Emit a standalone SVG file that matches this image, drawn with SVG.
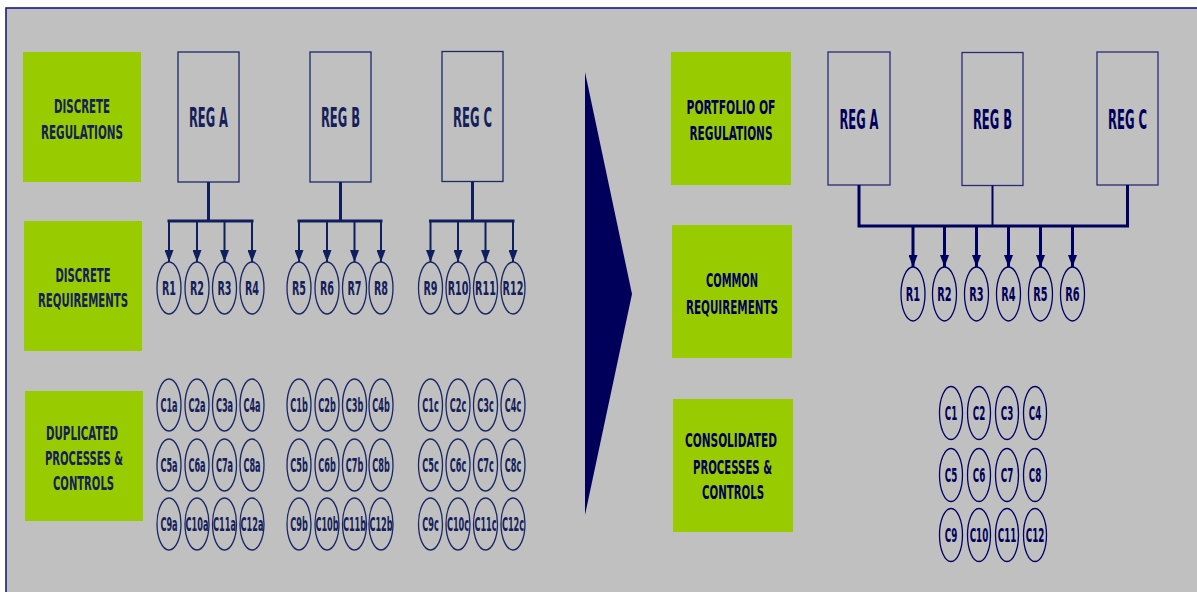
<svg xmlns="http://www.w3.org/2000/svg" width="1197" height="592" viewBox="0 0 1197 592">
<defs>
<style>
.bg{fill:#c0c0c0;stroke:#1a1a8c;stroke-width:1.6}
.green{fill:#99cc00}
.reg{fill:none;stroke:#1c2a6a;stroke-width:1.3}
.regR{fill:none;stroke:#2a2a7a;stroke-width:1.3}
.ell{fill:none;stroke:#1a2766;stroke-width:1.3}
.ellR{fill:none;stroke:#000066;stroke-width:1.3}
text{font-family:"DejaVu Sans","Verdana",sans-serif;font-weight:bold;text-anchor:middle}
.lbl{font-size:20px;fill:#14205a}
.lblR{font-size:20px;fill:#00005c}
.regt{font-size:26px;fill:#14205a}
.regtR{font-size:26px;fill:#00005c}
.rt{font-size:20px;fill:#14205a}
.rtR{font-size:20px;fill:#00005c}
.ct{font-size:19px;fill:#14205a}
.ctR{font-size:19px;fill:#00005c}
.thick{stroke:#0f1f5e;stroke-width:3;fill:none}
.thin{stroke:#0f1f5e;stroke-width:2;fill:none}
.thickR{stroke:#000060;stroke-width:3;fill:none}
.thinR{stroke:#000060;stroke-width:2;fill:none}
</style>
<marker id="ah" markerUnits="userSpaceOnUse" markerWidth="9" markerHeight="12" refX="4.5" refY="12" viewBox="0 0 9 12">
<path d="M0,0 L9,0 L4.5,12 Z" fill="#0f1f5e"/>
</marker>
<marker id="ahR" markerUnits="userSpaceOnUse" markerWidth="9" markerHeight="12" refX="4.5" refY="12" viewBox="0 0 9 12">
<path d="M0,0 L9,0 L4.5,12 Z" fill="#000060"/>
</marker>
</defs>

<rect x="6" y="8" width="1200" height="600" class="bg"/>

<!-- Left labels (text compressed with scale 0.5) -->
<g id="lbl-discrete-regulations">
<rect x="23" y="52" width="118" height="130" class="green"/>
<text class="lbl" transform="scale(0.5,1)" x="164" y="113" textLength="112" lengthAdjust="spacingAndGlyphs">DISCRETE</text>
<text class="lbl" transform="scale(0.5,1)" x="164" y="139" textLength="164" lengthAdjust="spacingAndGlyphs">REGULATIONS</text>
</g>
<g id="lbl-discrete-requirements">
<rect x="24" y="221" width="118" height="130" class="green"/>
<text class="lbl" transform="scale(0.5,1)" x="166" y="282" textLength="110" lengthAdjust="spacingAndGlyphs">DISCRETE</text>
<text class="lbl" transform="scale(0.5,1)" x="166" y="307" textLength="180" lengthAdjust="spacingAndGlyphs">REQUIREMENTS</text>
</g>
<g id="lbl-duplicated">
<rect x="25" y="391" width="118" height="130" class="green"/>
<text class="lbl" transform="scale(0.5,1)" x="164" y="440" textLength="144" lengthAdjust="spacingAndGlyphs">DUPLICATED</text>
<text class="lbl" transform="scale(0.5,1)" x="168" y="465" textLength="156" lengthAdjust="spacingAndGlyphs">PROCESSES &amp;</text>
<text class="lbl" transform="scale(0.5,1)" x="167" y="490" textLength="122" lengthAdjust="spacingAndGlyphs">CONTROLS</text>
</g>

<!-- Left REG boxes -->
<g id="regA-left">
<rect x="178" y="52" width="61" height="130" class="reg"/>
<text class="regt" transform="scale(0.5,1)" x="417" y="127.5" textLength="78" lengthAdjust="spacingAndGlyphs">REG A</text>
</g>
<g id="regB-left">
<rect x="310" y="52" width="61" height="130" class="reg"/>
<text class="regt" transform="scale(0.5,1)" x="681" y="127.5" textLength="78" lengthAdjust="spacingAndGlyphs">REG B</text>
</g>
<g id="regC-left">
<rect x="442" y="51.5" width="61" height="130" class="reg"/>
<text class="regt" transform="scale(0.5,1)" x="945" y="127.5" textLength="78" lengthAdjust="spacingAndGlyphs">REG C</text>
</g>

<!-- Left requirement ellipses (labels compressed with scale 0.48) -->
<g id="req-left">
<g id="R1a"><ellipse cx="169" cy="288" rx="12" ry="26" class="ell"/><text class="rt" transform="scale(0.48,1)" x="352.08" y="295.5">R1</text></g>
<g id="R2a"><ellipse cx="197" cy="288" rx="12" ry="26" class="ell"/><text class="rt" transform="scale(0.48,1)" x="410.42" y="295.5">R2</text></g>
<g id="R3a"><ellipse cx="224.5" cy="288" rx="12" ry="26" class="ell"/><text class="rt" transform="scale(0.48,1)" x="467.71" y="295.5">R3</text></g>
<g id="R4a"><ellipse cx="252" cy="288" rx="12" ry="26" class="ell"/><text class="rt" transform="scale(0.48,1)" x="525" y="295.5">R4</text></g>
<g id="R5a"><ellipse cx="299" cy="288" rx="12" ry="26" class="ell"/><text class="rt" transform="scale(0.48,1)" x="622.92" y="295.5">R5</text></g>
<g id="R6a"><ellipse cx="327" cy="288" rx="12" ry="26" class="ell"/><text class="rt" transform="scale(0.48,1)" x="681.25" y="295.5">R6</text></g>
<g id="R7a"><ellipse cx="354.5" cy="288" rx="12" ry="26" class="ell"/><text class="rt" transform="scale(0.48,1)" x="738.54" y="295.5">R7</text></g>
<g id="R8a"><ellipse cx="381" cy="288" rx="12" ry="26" class="ell"/><text class="rt" transform="scale(0.48,1)" x="793.75" y="295.5">R8</text></g>
<g id="R9a"><ellipse cx="430.5" cy="288" rx="12" ry="26" class="ell"/><text class="rt" transform="scale(0.48,1)" x="896.88" y="295.5">R9</text></g>
<g id="R10a"><ellipse cx="458" cy="288" rx="12" ry="26" class="ell"/><text class="rt" transform="scale(0.48,1)" x="954.17" y="295.5">R10</text></g>
<g id="R11a"><ellipse cx="485.5" cy="288" rx="12" ry="26" class="ell"/><text class="rt" transform="scale(0.48,1)" x="1011.46" y="295.5">R11</text></g>
<g id="R12a"><ellipse cx="513" cy="288" rx="12" ry="26" class="ell"/><text class="rt" transform="scale(0.48,1)" x="1068.75" y="295.5">R12</text></g>
</g>

<!-- Left controls ellipses (labels compressed with scale 0.43) -->
<g id="ctrl-left">
<g id="C1a"><ellipse cx="169" cy="405" rx="12" ry="26" class="ell"/><text class="ct" transform="scale(0.43,1)" x="393.02" y="412">C1a</text></g>
<g id="C2a"><ellipse cx="197" cy="405" rx="12" ry="26" class="ell"/><text class="ct" transform="scale(0.43,1)" x="458.14" y="412">C2a</text></g>
<g id="C3a"><ellipse cx="224.5" cy="405" rx="12" ry="26" class="ell"/><text class="ct" transform="scale(0.43,1)" x="522.09" y="412">C3a</text></g>
<g id="C4a"><ellipse cx="252" cy="405" rx="12" ry="26" class="ell"/><text class="ct" transform="scale(0.43,1)" x="586.05" y="412">C4a</text></g>
<g id="C5a"><ellipse cx="169" cy="465" rx="12" ry="26" class="ell"/><text class="ct" transform="scale(0.43,1)" x="393.02" y="472">C5a</text></g>
<g id="C6a"><ellipse cx="197" cy="465" rx="12" ry="26" class="ell"/><text class="ct" transform="scale(0.43,1)" x="458.14" y="472">C6a</text></g>
<g id="C7a"><ellipse cx="224.5" cy="465" rx="12" ry="26" class="ell"/><text class="ct" transform="scale(0.43,1)" x="522.09" y="472">C7a</text></g>
<g id="C8a"><ellipse cx="252" cy="465" rx="12" ry="26" class="ell"/><text class="ct" transform="scale(0.43,1)" x="586.05" y="472">C8a</text></g>
<g id="C9a"><ellipse cx="169" cy="524" rx="12" ry="26" class="ell"/><text class="ct" transform="scale(0.43,1)" x="393.02" y="531">C9a</text></g>
<g id="C10a"><ellipse cx="197" cy="524" rx="12" ry="26" class="ell"/><text class="ct" transform="scale(0.43,1)" x="458.14" y="531">C10a</text></g>
<g id="C11a"><ellipse cx="224.5" cy="524" rx="12" ry="26" class="ell"/><text class="ct" transform="scale(0.43,1)" x="522.09" y="531">C11a</text></g>
<g id="C12a"><ellipse cx="252" cy="524" rx="12" ry="26" class="ell"/><text class="ct" transform="scale(0.43,1)" x="586.05" y="531">C12a</text></g>

<g id="C1b"><ellipse cx="299" cy="405" rx="12" ry="26" class="ell"/><text class="ct" transform="scale(0.43,1)" x="695.35" y="412">C1b</text></g>
<g id="C2b"><ellipse cx="327" cy="405" rx="12" ry="26" class="ell"/><text class="ct" transform="scale(0.43,1)" x="760.47" y="412">C2b</text></g>
<g id="C3b"><ellipse cx="354.5" cy="405" rx="12" ry="26" class="ell"/><text class="ct" transform="scale(0.43,1)" x="824.42" y="412">C3b</text></g>
<g id="C4b"><ellipse cx="381" cy="405" rx="12" ry="26" class="ell"/><text class="ct" transform="scale(0.43,1)" x="886.05" y="412">C4b</text></g>
<g id="C5b"><ellipse cx="299" cy="465" rx="12" ry="26" class="ell"/><text class="ct" transform="scale(0.43,1)" x="695.35" y="472">C5b</text></g>
<g id="C6b"><ellipse cx="327" cy="465" rx="12" ry="26" class="ell"/><text class="ct" transform="scale(0.43,1)" x="760.47" y="472">C6b</text></g>
<g id="C7b"><ellipse cx="354.5" cy="465" rx="12" ry="26" class="ell"/><text class="ct" transform="scale(0.43,1)" x="824.42" y="472">C7b</text></g>
<g id="C8b"><ellipse cx="381" cy="465" rx="12" ry="26" class="ell"/><text class="ct" transform="scale(0.43,1)" x="886.05" y="472">C8b</text></g>
<g id="C9b"><ellipse cx="299" cy="524" rx="12" ry="26" class="ell"/><text class="ct" transform="scale(0.43,1)" x="695.35" y="531">C9b</text></g>
<g id="C10b"><ellipse cx="327" cy="524" rx="12" ry="26" class="ell"/><text class="ct" transform="scale(0.43,1)" x="760.47" y="531">C10b</text></g>
<g id="C11b"><ellipse cx="354.5" cy="524" rx="12" ry="26" class="ell"/><text class="ct" transform="scale(0.43,1)" x="824.42" y="531">C11b</text></g>
<g id="C12b"><ellipse cx="381" cy="524" rx="12" ry="26" class="ell"/><text class="ct" transform="scale(0.43,1)" x="886.05" y="531">C12b</text></g>

<g id="C1c"><ellipse cx="430.5" cy="405" rx="12" ry="26" class="ell"/><text class="ct" transform="scale(0.43,1)" x="1001.16" y="412">C1c</text></g>
<g id="C2c"><ellipse cx="458" cy="405" rx="12" ry="26" class="ell"/><text class="ct" transform="scale(0.43,1)" x="1065.12" y="412">C2c</text></g>
<g id="C3c"><ellipse cx="485.5" cy="405" rx="12" ry="26" class="ell"/><text class="ct" transform="scale(0.43,1)" x="1129.07" y="412">C3c</text></g>
<g id="C4c"><ellipse cx="513" cy="405" rx="12" ry="26" class="ell"/><text class="ct" transform="scale(0.43,1)" x="1193.02" y="412">C4c</text></g>
<g id="C5c"><ellipse cx="430.5" cy="465" rx="12" ry="26" class="ell"/><text class="ct" transform="scale(0.43,1)" x="1001.16" y="472">C5c</text></g>
<g id="C6c"><ellipse cx="458" cy="465" rx="12" ry="26" class="ell"/><text class="ct" transform="scale(0.43,1)" x="1065.12" y="472">C6c</text></g>
<g id="C7c"><ellipse cx="485.5" cy="465" rx="12" ry="26" class="ell"/><text class="ct" transform="scale(0.43,1)" x="1129.07" y="472">C7c</text></g>
<g id="C8c"><ellipse cx="513" cy="465" rx="12" ry="26" class="ell"/><text class="ct" transform="scale(0.43,1)" x="1193.02" y="472">C8c</text></g>
<g id="C9c"><ellipse cx="430.5" cy="524" rx="12" ry="26" class="ell"/><text class="ct" transform="scale(0.43,1)" x="1001.16" y="531">C9c</text></g>
<g id="C10c"><ellipse cx="458" cy="524" rx="12" ry="26" class="ell"/><text class="ct" transform="scale(0.43,1)" x="1065.12" y="531">C10c</text></g>
<g id="C11c"><ellipse cx="485.5" cy="524" rx="12" ry="26" class="ell"/><text class="ct" transform="scale(0.43,1)" x="1129.07" y="531">C11c</text></g>
<g id="C12c"><ellipse cx="513" cy="524" rx="12" ry="26" class="ell"/><text class="ct" transform="scale(0.43,1)" x="1193.02" y="531">C12c</text></g>
</g>

<!-- Big transition arrow -->
<g id="transition-arrow">
<polygon points="585,72 632,294 585,515" fill="#00005a"/>
</g>

<!-- Right labels -->
<g id="lbl-portfolio">
<rect x="671" y="52" width="120" height="133" class="green"/>
<text class="lblR" transform="scale(0.5,1)" x="1462" y="114" textLength="178" lengthAdjust="spacingAndGlyphs">PORTFOLIO  OF</text>
<text class="lblR" transform="scale(0.5,1)" x="1462" y="140.5" textLength="166" lengthAdjust="spacingAndGlyphs">REGULATIONS</text>
</g>
<g id="lbl-common">
<rect x="672" y="225" width="120" height="133" class="green"/>
<text class="lblR" transform="scale(0.5,1)" x="1464" y="287" textLength="104" lengthAdjust="spacingAndGlyphs">COMMON</text>
<text class="lblR" transform="scale(0.5,1)" x="1464" y="314" textLength="184" lengthAdjust="spacingAndGlyphs">REQUIREMENTS</text>
</g>
<g id="lbl-consolidated">
<rect x="673" y="399" width="120" height="133" class="green"/>
<text class="lblR" transform="scale(0.5,1)" x="1462" y="447" textLength="184" lengthAdjust="spacingAndGlyphs">CONSOLIDATED</text>
<text class="lblR" transform="scale(0.5,1)" x="1465" y="474" textLength="158" lengthAdjust="spacingAndGlyphs">PROCESSES &amp;</text>
<text class="lblR" transform="scale(0.5,1)" x="1466" y="499" textLength="124" lengthAdjust="spacingAndGlyphs">CONTROLS</text>
</g>

<!-- Right REG boxes -->
<g id="regA-right">
<rect x="828" y="52" width="62" height="133" class="regR"/>
<text class="regtR" transform="scale(0.5,1)" x="1718" y="129" textLength="78" lengthAdjust="spacingAndGlyphs">REG A</text>
</g>
<g id="regB-right">
<rect x="962" y="52.5" width="61" height="133" class="regR"/>
<text class="regtR" transform="scale(0.5,1)" x="1985" y="129" textLength="78" lengthAdjust="spacingAndGlyphs">REG B</text>
</g>
<g id="regC-right">
<rect x="1097" y="52" width="61" height="133" class="regR"/>
<text class="regtR" transform="scale(0.5,1)" x="2255" y="129" textLength="78" lengthAdjust="spacingAndGlyphs">REG C</text>
</g>

<!-- Right requirement ellipses (labels scale 0.49) -->
<g id="req-right">
<g id="R1"><ellipse cx="913" cy="294" rx="12" ry="27" class="ellR"/><text class="rtR" transform="scale(0.49,1)" x="1863.27" y="301.5">R1</text></g>
<g id="R2"><ellipse cx="944.5" cy="294" rx="12" ry="27" class="ellR"/><text class="rtR" transform="scale(0.49,1)" x="1927.55" y="301.5">R2</text></g>
<g id="R3"><ellipse cx="976.5" cy="294" rx="12" ry="27" class="ellR"/><text class="rtR" transform="scale(0.49,1)" x="1992.86" y="301.5">R3</text></g>
<g id="R4"><ellipse cx="1008.5" cy="294" rx="12" ry="27" class="ellR"/><text class="rtR" transform="scale(0.49,1)" x="2058.16" y="301.5">R4</text></g>
<g id="R5"><ellipse cx="1040.5" cy="294" rx="12" ry="27" class="ellR"/><text class="rtR" transform="scale(0.49,1)" x="2123.47" y="301.5">R5</text></g>
<g id="R6"><ellipse cx="1072.5" cy="294" rx="12" ry="27" class="ellR"/><text class="rtR" transform="scale(0.49,1)" x="2188.78" y="301.5">R6</text></g>
</g>

<!-- Right consolidated controls (labels scale 0.46) -->
<g id="ctrl-right">
<g id="C1"><ellipse cx="951" cy="413" rx="11.5" ry="26.5" class="ellR"/><text class="ctR" transform="scale(0.46,1)" x="2067.39" y="420">C1</text></g>
<g id="C2"><ellipse cx="979" cy="413" rx="11.5" ry="26.5" class="ellR"/><text class="ctR" transform="scale(0.46,1)" x="2128.26" y="420">C2</text></g>
<g id="C3"><ellipse cx="1007" cy="413" rx="11.5" ry="26.5" class="ellR"/><text class="ctR" transform="scale(0.46,1)" x="2189.13" y="420">C3</text></g>
<g id="C4"><ellipse cx="1035" cy="413" rx="11.5" ry="26.5" class="ellR"/><text class="ctR" transform="scale(0.46,1)" x="2250" y="420">C4</text></g>
<g id="C5"><ellipse cx="951" cy="475" rx="11.5" ry="26.5" class="ellR"/><text class="ctR" transform="scale(0.46,1)" x="2067.39" y="482">C5</text></g>
<g id="C6"><ellipse cx="979" cy="475" rx="11.5" ry="26.5" class="ellR"/><text class="ctR" transform="scale(0.46,1)" x="2128.26" y="482">C6</text></g>
<g id="C7"><ellipse cx="1007" cy="475" rx="11.5" ry="26.5" class="ellR"/><text class="ctR" transform="scale(0.46,1)" x="2189.13" y="482">C7</text></g>
<g id="C8"><ellipse cx="1035" cy="475" rx="11.5" ry="26.5" class="ellR"/><text class="ctR" transform="scale(0.46,1)" x="2250" y="482">C8</text></g>
<g id="C9"><ellipse cx="951" cy="535" rx="11.5" ry="26.5" class="ellR"/><text class="ctR" transform="scale(0.46,1)" x="2067.39" y="542">C9</text></g>
<g id="C10"><ellipse cx="979" cy="535" rx="11.5" ry="26.5" class="ellR"/><text class="ctR" transform="scale(0.46,1)" x="2128.26" y="542">C10</text></g>
<g id="C11"><ellipse cx="1007" cy="535" rx="11.5" ry="26.5" class="ellR"/><text class="ctR" transform="scale(0.46,1)" x="2189.13" y="542">C11</text></g>
<g id="C12"><ellipse cx="1035" cy="535" rx="11.5" ry="26.5" class="ellR"/><text class="ctR" transform="scale(0.46,1)" x="2250" y="542">C12</text></g>
</g>

<!-- Connectors -->
<g id="connectors">
<!-- left REG A -->
<path class="thick" d="M208.5,182 V221 M167.5,221 H253.5"/>
<line class="thin" x1="169" y1="221" x2="169" y2="262" marker-end="url(#ah)"/>
<line class="thin" x1="197" y1="221" x2="197" y2="262" marker-end="url(#ah)"/>
<line class="thin" x1="224.5" y1="221" x2="224.5" y2="262" marker-end="url(#ah)"/>
<line class="thin" x1="252" y1="221" x2="252" y2="262" marker-end="url(#ah)"/>
<!-- left REG B -->
<path class="thick" d="M340.5,182 V221 M297.5,221 H382.5"/>
<line class="thin" x1="299" y1="221" x2="299" y2="262" marker-end="url(#ah)"/>
<line class="thin" x1="327" y1="221" x2="327" y2="262" marker-end="url(#ah)"/>
<line class="thin" x1="354.5" y1="221" x2="354.5" y2="262" marker-end="url(#ah)"/>
<line class="thin" x1="381" y1="221" x2="381" y2="262" marker-end="url(#ah)"/>
<!-- left REG C -->
<path class="thick" d="M472.5,181.5 V221 M429,221 H514.5"/>
<line class="thin" x1="430.5" y1="221" x2="430.5" y2="262" marker-end="url(#ah)"/>
<line class="thin" x1="458" y1="221" x2="458" y2="262" marker-end="url(#ah)"/>
<line class="thin" x1="485.5" y1="221" x2="485.5" y2="262" marker-end="url(#ah)"/>
<line class="thin" x1="513" y1="221" x2="513" y2="262" marker-end="url(#ah)"/>
<!-- right -->
<path class="thickR" d="M859,185 V226 M1127.5,185 V226 M857.5,226 H1129"/>
<line class="thinR" x1="992.5" y1="185.5" x2="992.5" y2="226"/>
<line class="thickR" x1="913" y1="226" x2="913" y2="267" marker-end="url(#ahR)"/>
<line class="thickR" x1="944.5" y1="226" x2="944.5" y2="267" marker-end="url(#ahR)"/>
<line class="thickR" x1="976.5" y1="226" x2="976.5" y2="267" marker-end="url(#ahR)"/>
<line class="thickR" x1="1008.5" y1="226" x2="1008.5" y2="267" marker-end="url(#ahR)"/>
<line class="thickR" x1="1040.5" y1="226" x2="1040.5" y2="267" marker-end="url(#ahR)"/>
<line class="thickR" x1="1072.5" y1="226" x2="1072.5" y2="267" marker-end="url(#ahR)"/>
</g>
</svg>
